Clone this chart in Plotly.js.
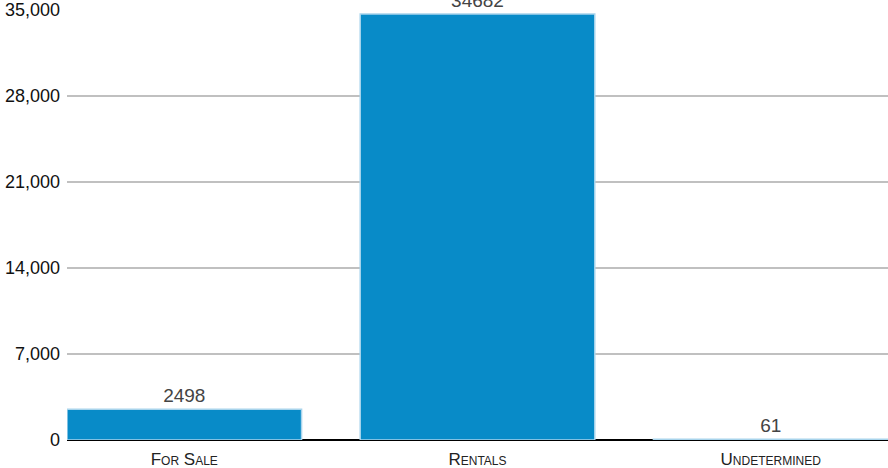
<!DOCTYPE html>
<html>
<head>
<meta charset="utf-8">
<script src="https://cdn.plot.ly/plotly-3.0.1.min.js"></script>
<style>html,body{margin:0;padding:0;background:#fff;}#chart{width:888px;height:468px;}</style>
</head>
<body>
<div id="chart"></div>
<script>
const categories = ["For Sale", "Rentals", "Undetermined"];
const counts = [2498, 34682, 61];
const yTicks = [0, 7000, 14000, 21000, 28000, 35000];

const trace = {
  type: 'bar',
  x: categories,
  y: counts,
  text: counts.map(String),
  textposition: 'outside',
  cliponaxis: false,
  textfont: {family: 'Liberation Sans, Arial, sans-serif', size: 19, color: '#444'},
  marker: {color: '#088bc8', line: {color: '#a8d4ec', width: 1.5}},
  hoverinfo: 'skip'
};

const layout = {
  width: 888, height: 468,
  margin: {l: 67, r: 0, t: 10, b: 28},
  paper_bgcolor: '#fff', plot_bgcolor: '#fff',
  bargap: 0.2,
  showlegend: false,
  font: {family: 'Liberation Sans, Arial, sans-serif', color: '#222'},
  xaxis: {
    type: 'category',
    range: [-0.4, 2.4],
    showgrid: false,
    showline: false,
    zeroline: false,
    ticks: '',
    tickfont: {size: 17, color: '#222', variant: 'small-caps'},
    ticklabelstandoff: 7
  },
  yaxis: {
    range: [0, 35000],
    tickvals: yTicks,
    tickformat: ',d',
    showgrid: true,
    gridcolor: '#c0c0c0',
    gridwidth: 2,
    zeroline: true,
    zerolinecolor: '#000',
    zerolinewidth: 2.5,
    showline: false,
    ticks: '',
    ticklabelstandoff: 6,
    tickfont: {size: 18, color: '#111'}
  }
};

Plotly.newPlot('chart', [trace], layout, {staticPlot: true, displayModeBar: false});
</script>
</body>
</html>
